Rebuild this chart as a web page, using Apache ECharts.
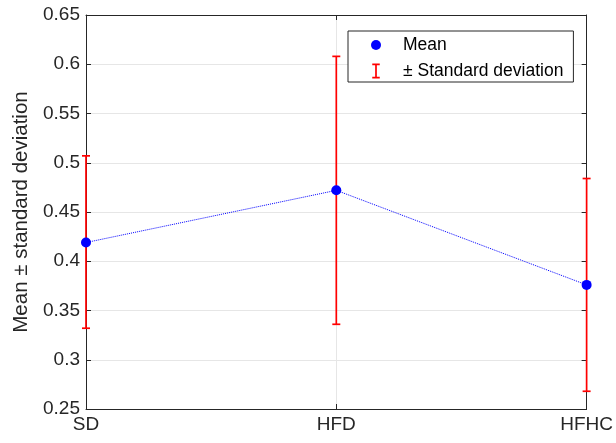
<!DOCTYPE html>
<html>
<head>
<meta charset="utf-8">
<script src="https://cdn.jsdelivr.net/npm/echarts@6/dist/echarts.min.js"></script>
<style>html,body{margin:0;padding:0;background:#fff}#c{width:616px;height:443px}</style>
</head>
<body>
<div id="c"></div>
<script>
const categories = ['SD', 'HFD', 'HFHC'];
const meanValues = [0.419, 0.472, 0.376];
const lowerValues = [0.332, 0.336, 0.268];
const upperValues = [0.507, 0.608, 0.484];
const yTicks = { min: 0.25, max: 0.65, interval: 0.05 };

const FONT = '"Liberation Sans", Arial, sans-serif';
const TXT = '#262626';
const chart = echarts.init(document.getElementById('c'), null, { renderer: 'canvas' });

const errData = categories.map((c, i) => [i, lowerValues[i], upperValues[i]]);

chart.setOption({
  backgroundColor: '#fff',
  animation: false,
  grid: { left: 86, right: 29, top: 15, bottom: 34, show: false },
  legend: {
    orient: 'vertical',
    left: 348, top: 31,
    padding: [5, 10, 2, 23],
    itemWidth: 10, itemHeight: 15, itemGap: 8,
    borderColor: '#262626', borderWidth: 1,
    backgroundColor: '#fff',
    selectedMode: false,
    formatter: n => '{s|}' + n,
    textStyle: { fontFamily: FONT, fontSize: 17.5, color: '#000', rich: { s: { width: 17 } } },
    data: [
      { name: 'Mean', icon: 'circle' },
      { name: '± Standard deviation', icon: 'path://M0,0H7V1.6H4.3V12.4H7V14H0V12.4H2.7V1.6H0Z' }
    ]
  },
  xAxis: [{
    type: 'category', data: categories, boundaryGap: false,
    axisLine: { show: true, lineStyle: { color: TXT, width: 1 } },
    axisTick: { show: true, inside: true, length: 5, lineStyle: { color: TXT } },
    axisLabel: { fontFamily: FONT, fontSize: 19, color: TXT, margin: 6 },
    splitLine: { show: true, lineStyle: { color: '#e6e6e6', width: 1 } }
  }, {
    type: 'category', data: categories, boundaryGap: false, position: 'top',
    axisLine: { show: true, lineStyle: { color: TXT, width: 1 } },
    axisTick: { show: true, inside: true, length: 5, lineStyle: { color: TXT } },
    axisLabel: { show: false }, splitLine: { show: false }
  }],
  yAxis: [{
    type: 'value', min: yTicks.min, max: yTicks.max, interval: yTicks.interval,
    name: 'Mean ± standard deviation', nameLocation: 'middle', nameGap: 53,
    nameTextStyle: { fontFamily: FONT, fontSize: 20.5, color: TXT },
    axisLine: { show: true, lineStyle: { color: TXT, width: 1 } },
    axisTick: { show: true, inside: true, length: 5, lineStyle: { color: TXT } },
    axisLabel: { fontFamily: FONT, fontSize: 19, color: TXT, margin: 6, formatter: v => String(+v.toFixed(2)) },
    splitLine: { show: true, lineStyle: { color: '#e6e6e6', width: 1 } }
  }, {
    type: 'value', min: yTicks.min, max: yTicks.max, interval: yTicks.interval, position: 'right',
    axisLine: { show: true, lineStyle: { color: TXT, width: 1 } },
    axisTick: { show: true, inside: true, length: 5, lineStyle: { color: TXT } },
    axisLabel: { show: false }, splitLine: { show: false }
  }],
  series: [{
    name: '± Standard deviation',
    type: 'custom',
    xAxisIndex: 0, yAxisIndex: 0,
    itemStyle: { color: '#ff0000' },
    z: 3,
    clip: false,
    encode: { x: 0, y: [1, 2] },
    data: errData,
    renderItem: function (params, api) {
      const x = api.value(0);
      const lo = api.coord([x, api.value(1)]);
      const hi = api.coord([x, api.value(2)]);
      const hw = 4;
      const st = { stroke: '#ff0000', lineWidth: 1.7 };
      return {
        type: 'group',
        children: [
          { type: 'line', shape: { x1: lo[0], y1: lo[1], x2: hi[0], y2: hi[1] }, style: st },
          { type: 'line', shape: { x1: lo[0] - hw, y1: lo[1], x2: lo[0] + hw, y2: lo[1] }, style: st },
          { type: 'line', shape: { x1: hi[0] - hw, y1: hi[1], x2: hi[0] + hw, y2: hi[1] }, style: st }
        ]
      };
    }
  }, {
    name: 'Mean',
    type: 'line',
    data: meanValues,
    z: 5,
    symbol: 'circle', symbolSize: 10,
    itemStyle: { color: '#0000ff' },
    lineStyle: { color: '#0000ff', width: 1, type: 'dotted' }
  }]
});
</script>
</body>
</html>
